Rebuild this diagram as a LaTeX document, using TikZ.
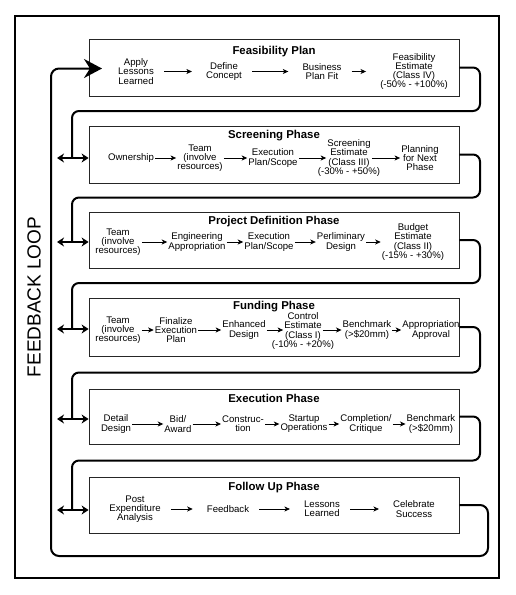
\documentclass[tikz,border=0pt]{standalone}
\usepackage{fontspec}
\setmainfont{Liberation Sans}
\usetikzlibrary{arrows.meta,calc}

\begin{document}
\begin{tikzpicture}[x=1pt, y=-1pt,
  phasebox/.style={draw=black!85, line width=0.8pt, minimum width=370pt, inner sep=0pt},
  phasetitle/.style={anchor=base, inner sep=0pt, font=\bfseries\fontsize{11.4}{13}\selectfont},
  item/.style={align=center, inner sep=1pt, font=\fontsize{9.6}{9.2}\selectfont},
  flow/.style={-{Stealth[length=5.5pt, width=5pt, inset=1.5pt]}, line width=0.8pt},
  wideflow/.style={flow, shorten <=9pt, shorten >=13pt},
  loopline/.style={line width=2pt, rounded corners=7pt},
  twoway/.style={{Stealth[length=7pt, width=9pt]}-{Stealth[length=7pt, width=9pt]}, line width=2pt},
  entry/.style={-{Stealth[length=18pt, width=19pt, inset=6pt]}, line width=2pt, rounded corners=8pt},
]
\useasboundingbox (0,0) rectangle (515,595);
\node[draw, line width=2pt, minimum width=484pt, minimum height=562pt, inner sep=0pt] (frame) at (257,297) {};
\node[rotate=90, inner sep=0pt, font=\fontsize{19}{19}\selectfont] (fbloop) at (34,297) {FEEDBACK LOOP};

% phase boxes
\node[phasebox, minimum height=57pt] (feas) at (274,67.5) {};
\node[phasebox, minimum height=57pt] (scr) at (274,154.5) {};
\node[phasebox, minimum height=56pt] (pdef) at (274,240) {};
\node[phasebox, minimum height=58pt] (fund) at (274,327) {};
\node[phasebox, minimum height=55pt] (exec) at (274,416.5) {};
\node[phasebox, minimum height=56pt] (foll) at (274,505) {};

\node[phasetitle] (feast) at (274,54) {Feasibility Plan};
\node[phasetitle] (scrt) at (274,138) {Screening Phase};
\node[phasetitle] (pdeft) at (274,224) {Project Definition Phase};
\node[phasetitle] (fundt) at (274,309.5) {Funding Phase};
\node[phasetitle] (exect) at (274,402) {Execution Phase};
\node[phasetitle] (follt) at (274,490) {Follow Up Phase};

% feasibility plan
\node[item] (fa) at (136,71.5) {Apply\\Lessons\\Learned};
\node[item] (fb) at (224,71.5) {Define\\Concept};
\node[item] (fc) at (322,71.5) {Business\\Plan Fit};
\node[item] (fd) at (414,71.5) {Feasibility\\Estimate\\(Class IV)\\(-50\% - +100\%)};

% screening phase
\node[item] (sa) at (131,158) {Ownership};
\node[item] (sb) at (200,158) {Team\\(involve\\resources)};
\node[item] (sc) at (273,158) {Execution\\Plan/Scope};
\node[item] (sd) at (349,158) {Screening\\Estimate\\(Class III)\\\makebox[0pt]{(-30\% - +50\%)}};
\node[item] (se) at (420,158) {Planning\\for Next\\Phase};

% project definition phase
\node[item] (pa) at (118,242) {Team\\(involve\\resources)};
\node[item] (pb) at (197,242) {Engineering\\Appropriation};
\node[item] (pc) at (269,242) {Execution\\Plan/Scope};
\node[item] (pd) at (341,242) {Perliminary\\Design};
\node[item] (pe) at (413,242) {Budget\\Estimate\\(Class II)\\(-15\% - +30\%)};

% funding phase
\node[item] (ua) at (118,330) {Team\\(involve\\resources)};
\node[item] (ub) at (176,330) {Finalize\\Execution\\Plan};
\node[item] (uc) at (244,330) {Enhanced\\Design};
\node[item] (ud) at (303,331) {Control\\Estimate\\(Class I)\\\makebox[0pt]{(-10\% - +20\%)}};
\node[item] (ue) at (367,330) {Benchmark\\(>\$20mm)};
\node[item] (uf) at (431,330) {Appropriation\\Approval};

% execution phase
\node[item] (ea) at (116,424) {Detail\\Design};
\node[item] (eb) at (178,424) {Bid/\\Award};
\node[item] (ec) at (243,424) {Construc-\\tion};
\node[item] (ed) at (304,424) {Startup\\Operations};
\node[item] (ee) at (366,424) {Completion/\\Critique};
\node[item] (ef) at (431,424) {Benchmark\\(>\$20mm)};

% follow up phase
\node[item] (la) at (135,509) {Post\\Expenditure\\Analysis};
\node[item] (lb) at (228,509) {Feedback};
\node[item] (lc) at (322,509) {Lessons\\Learned};
\node[item] (ld) at (414,509) {Celebrate\\Success};

\foreach \a/\b in {fa/fb,fb/fc,fc/fd,la/lb,lb/lc,lc/ld}
  \draw[wideflow] (\a) -- (\b);
\foreach \a/\b in {sa/sb,sb/sc,sc/sd,sd/se,pa/pb,pb/pc,pc/pd,pd/pe,ua/ub,ub/uc,ue/uf,ea/eb,eb/ec,ec/ed,ed/ee,ee/ef}
  \draw[flow] (\a) -- (\b);
\draw[flow] (uc) -- (uc -| ud.west);
\draw[flow] (ud.east |- ue) -- (ue);

% feedback loop
\coordinate (sR) at (480,0);
\coordinate (sL) at (72,0);
\coordinate (bR) at (488,556);
\coordinate (bL) at (51,556);
\coordinate (feasin) at (102,68.5);
\coordinate (inscr) at (57,158);
\coordinate (inpdef) at (57,242);
\coordinate (infund) at (57,329);
\coordinate (inexec) at (57,419);
\coordinate (infoll) at (57,510);

\foreach \a/\b in {feas/scr,scr/pdef,pdef/fund,fund/exec,exec/foll} {
  \path ($(\a.south)!0.5!(\b.north)$) coordinate (mid\b);
  \draw[loopline] (\a.east) -- (\a.east -| sR) -- (sR |- mid\b) -- (sL |- mid\b) -- (sL |- in\b);
  \draw[twoway] (in\b) -- (in\b -| \b.west);
}
\draw[entry] (foll.east) -- (foll.east -| bR) -- (bR) -- (bL) -- (bL |- feasin) -- (feasin);
\end{tikzpicture}
\end{document}
